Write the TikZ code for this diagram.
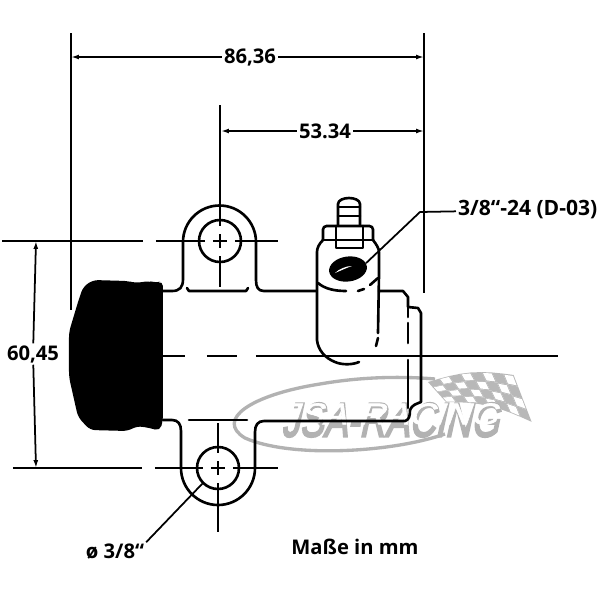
\documentclass[tikz,border=0pt]{standalone}
\usepackage{fontspec}
\usetikzlibrary{positioning,shapes.geometric,arrows.meta}
\setmainfont{Open Sans}
\newfontfamily\logofont[FakeBold=2,FakeSlant=0.35,FakeStretch=1.2]{Liberation Sans}
\newfontfamily\logoback[FakeBold=5,FakeSlant=0.35,FakeStretch=1.2]{Liberation Sans}

\tikzset{
  dimtext/.style={font=\fontsize{11.5}{12}\selectfont\bfseries, inner sep=1pt},
  dimline/.style={line width=1pt, >={Latex[length=4.5pt,width=2.8pt]}},
  outline/.style={line width=1.5pt, line cap=round, line join=round},
  center line/.style={line width=1.1pt},
  hole/.style={circle, draw, line width=1.5pt, minimum size=0.84cm, inner sep=0pt},
  logo/.style={draw=black!30, line width=1.9pt}
}

\begin{document}
\begin{tikzpicture}[x=0.02cm, y=-0.02cm,
  declare function={fx(\u,\v)=428+10.7*\u+4.5*\v; fy(\u,\v)=382-0.88*\u-6*sin(22.5*\u)+(5+0.84*\u)*\v;}]
\useasboundingbox (0,0) rectangle (600,600);

% Logo en gris
\draw[logo] (445,434) .. controls (390,453) and (290,458) .. (245,438) .. controls (215,420) and (250,395) .. (320,384) .. controls (360,377) and (400,376) .. (435,379);
\foreach \u in {0,...,7}{
  \foreach \v in {0,...,3}{
    \fill[black!28] ({fx(\u,\v)},{fy(\u,\v)}) -- ({fx(\u+1,\v)},{fy(\u+1,\v)}) -- ({fx(\u+1,\v+1)},{fy(\u+1,\v+1)}) -- ({fx(\u,\v+1)},{fy(\u,\v+1)}) -- cycle;
  }
}
\foreach \u in {0,...,7}{
  \foreach \v in {0,...,3}{
    \pgfmathparse{int(mod(\u+\v,2))}
    \ifnum\pgfmathresult=1
      \fill[white] ({fx(\u+0.1,\v+0.1)},{fy(\u+0.1,\v+0.1)}) -- ({fx(\u+0.9,\v+0.1)},{fy(\u+0.9,\v+0.1)}) -- ({fx(\u+0.9,\v+0.9)},{fy(\u+0.9,\v+0.9)}) -- ({fx(\u+0.1,\v+0.9)},{fy(\u+0.1,\v+0.9)}) -- cycle;
    \fi
  }
}
\node[font=\fontsize{17}{18}\logoback, text=black!30, inner sep=0pt] (logoshadow) at (390,420) {\scalebox{1}[1.6]{JSA-RACING}};
\node[font=\fontsize{17}{18}\logofont, text=white, inner sep=0pt] (logotext) at (389,414) {JSA-RACING};

% Tapa negra
\fill[black, rounded corners=3pt] (163,281) -- (155,283) -- (150,281) -- (135,283) -- (128,281) -- (93,280) -- (83,287) -- (78,302) -- (69,332) -- (69,377) -- (78,417) -- (90,430) -- (128,431) -- (137,426) -- (150,428) -- (160,431) -- (163,420) -- cycle;

% Orejas y cuerpo
\node[hole] (holeA) at (220,241) {};
\node[hole] (holeB) at (218,468) {};
\draw[outline] (163,291) -- (172,291) .. controls (180,291) and (183,287) .. (183,279) -- (183,242) arc[start angle=180, end angle=360, radius=36.5] -- (256,280) .. controls (256,287) and (258,291) .. (264,291) -- (316,291);
\draw[outline] (187,288) -- (189,291) -- (246,291) -- (248,288);
\draw[outline] (163,420) -- (172,420) .. controls (178,420) and (181,424) .. (181,431) -- (181,468) arc[start angle=180, end angle=0, radius=37] -- (255,432) .. controls (255,425) and (258,421) .. (264,421) -- (405,421) .. controls (409,420) and (410,416) .. (410,410) .. controls (412,405) and (416,404) .. (421,402) -- (421,313) -- (418,308) -- (408,307) -- (408,297) -- (403,291) -- (379,291);
\draw[outline] (189,420) -- (247,420);
\draw[outline] (408,307) -- (408,317);
\draw[outline] (408,323) -- (408,343);
\draw[outline] (408,360) -- (408,408);

% Racor
\draw[outline, rounded corners=2pt] (323,240) -- (323,226) -- (373,226) -- (373,240);
\draw[outline] (336,226) -- (336,248) -- (363,248) -- (363,226);
\draw[outline] (323,240) -- (373,240);
\draw[outline] (338,225) -- (338,204) .. controls (338,200) and (344,198) .. (349,198) .. controls (354,198) and (360,200) .. (360,204) -- (360,225);
\draw[outline] (338,207) -- (360,207);
\draw[outline] (338,216) -- (360,216);
\draw[outline] (323,240) .. controls (319,244) and (317,248) .. (317,252) -- (317,340) .. controls (318,350) and (325,358) .. (335,362) .. controls (342,365) and (352,365) .. (359,362);
\draw[outline] (373,240) .. controls (376,244) and (379,248) .. (379,252) -- (379,275) -- (378,333);
\draw[outline] (378,338) -- (376,346);
\draw[outline] (318,283) .. controls (325,289) and (335,291) .. (346,291);
\draw[outline] (358,291) -- (364,289);
\draw[outline] (370,285) -- (378,278);
\node[ellipse, fill=black, minimum width=0.76cm, minimum height=0.5cm, inner sep=0pt, rotate=8] (port) at (348,269) {};
\fill[white] (335,273) .. controls (339,269) and (346,266) .. (352,266) .. controls (346,268) and (340,271) .. (335,273) -- cycle;

% Ejes
\draw[center line] (163,356) -- (185,356);
\draw[center line] (207,356) -- (237,356);
\draw[center line] (256,356) -- (558,356);
\draw[center line] (2,241) -- (143,241);
\draw[center line] (156,241) -- (205,241);
\draw[center line] (213,241) -- (227,241);
\draw[center line] (235,241) -- (278,241);
\draw[center line] (220,105) -- (220,226);
\draw[center line] (220,234) -- (220,248);
\draw[center line] (220,256) -- (220,287);
\draw[center line] (13,468) -- (142,468);
\draw[center line] (155,468) -- (203,468);
\draw[center line] (211,468) -- (225,468);
\draw[center line] (233,468) -- (278,468);
\draw[center line] (218,423) -- (218,453);
\draw[center line] (218,461) -- (218,475);
\draw[center line] (218,483) -- (218,532);

% Cotas
\coordinate (extAtop) at (71,33);
\coordinate (extAbot) at (71,310);
\coordinate (extBtop) at (424,33);
\coordinate (extBbot) at (424,293);
\draw[dimline] (extAtop) -- (extAbot);
\draw[dimline] (extBtop) -- (extBbot);
\node[dimtext] (dimwidth) at (250,57) {86,36};
\node[dimtext] (dimbore) at (325,131) {53.34};
\node[dimtext] (dimheight) at (33,354) {60,45};
\coordinate (widthL) at (71,57);
\coordinate (widthR) at (424,57);
\coordinate (boreL) at (221,131);
\coordinate (boreR) at (424,131);
\coordinate (heightT) at (36,241);
\coordinate (heightB) at (36,468);
\draw[dimline,->] (dimwidth) -- (widthL);
\draw[dimline,->] (dimwidth) -- (widthR);
\draw[dimline,->] (dimbore) -- (boreL);
\draw[dimline,->] (dimbore) -- (boreR);
\draw[dimline,->] (dimheight) -- (heightT);
\draw[dimline,->] (dimheight) -- (heightB);

% Textos con linea de referencia
\node[dimtext, font=\fontsize{12}{13}\selectfont\bfseries, anchor=west] (thread) at (456,210) {3/8``-24 (D-03)};
\coordinate (threadK) at (420,212);
\draw[dimline] (thread) -- (threadK) -- (port.10);
\node[dimtext] (dia) at (115,552) {ø 3/8``};
\draw[dimline] (dia.north east) -- (holeB.225);
\node[dimtext] (units) at (355,547) {Maße in mm};

\end{tikzpicture}
\end{document}
